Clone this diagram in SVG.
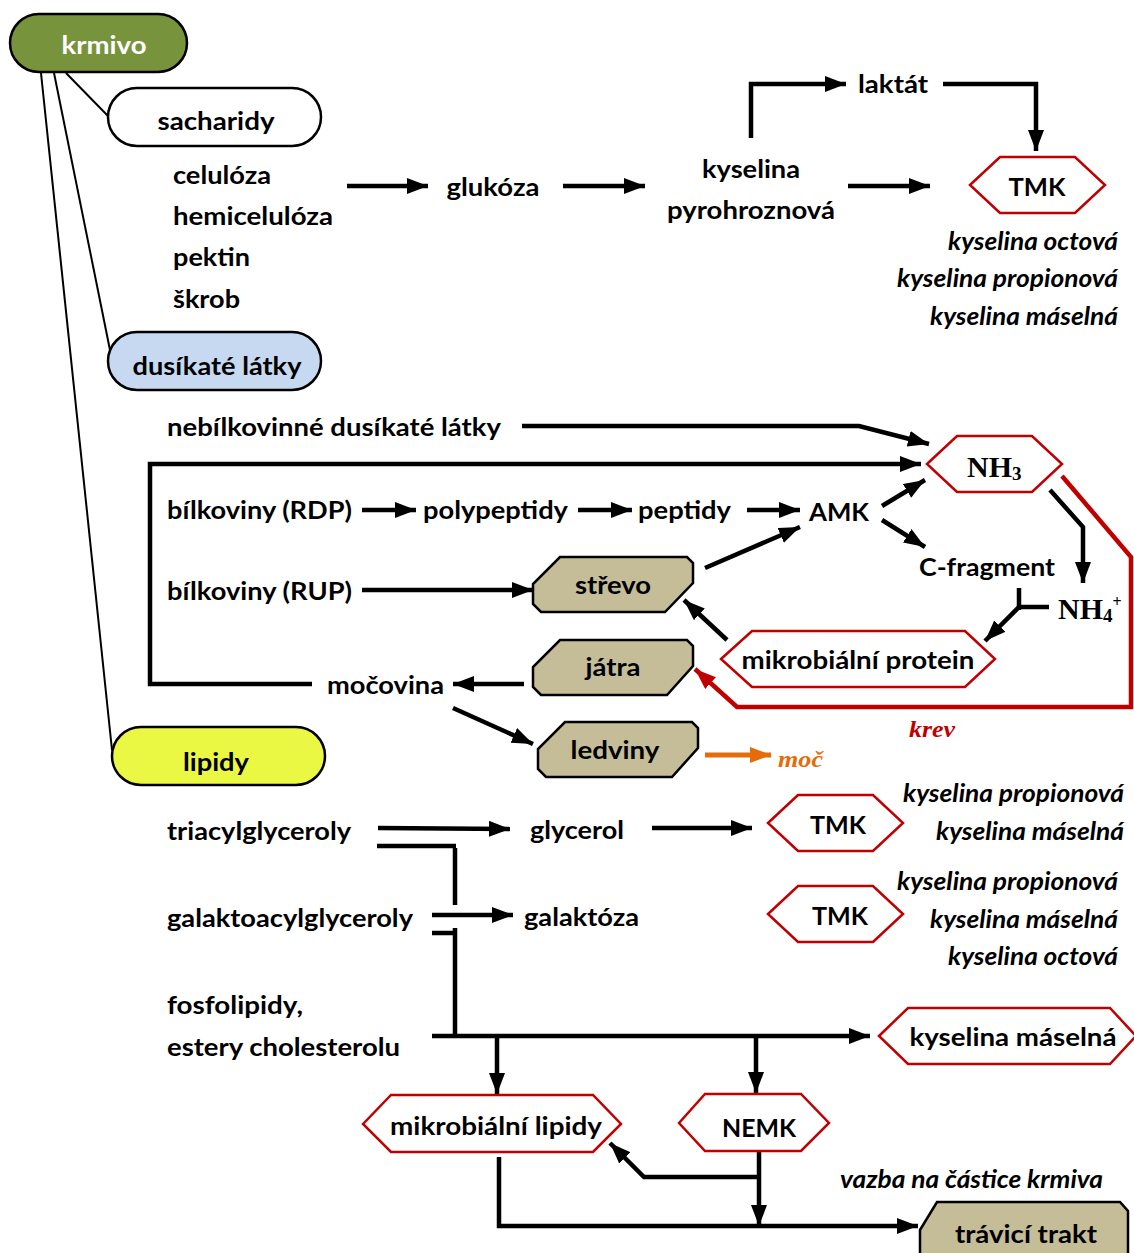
<svg xmlns="http://www.w3.org/2000/svg" width="1134" height="1253" viewBox="0 0 1134 1253">
<style>
text{font-family:Lato,"Open Sans","Liberation Sans",sans-serif;font-weight:bold;font-size:24px;fill:#000}
.it{font-style:italic}
.ser{font-family:"Liberation Serif","Times New Roman",serif;font-weight:bold}
.nh{font-family:"Liberation Serif","Times New Roman",serif;font-weight:bold;font-size:30px}
.c{fill:none;stroke:#000;stroke-width:4.5}
.a{marker-end:url(#ah)}
.thin{fill:none;stroke:#000;stroke-width:2}
.pill{stroke:#000;stroke-width:2.5}
.hex{fill:#fff;stroke:#c00000;stroke-width:2.5}
.tan{fill:#c4bd97;stroke:#000;stroke-width:2.5}
</style>
<defs>
<marker id="ah" markerUnits="userSpaceOnUse" markerWidth="24" markerHeight="18" refX="21" refY="8" orient="auto"><path d="M0,0 L21,8 L0,16 z" fill="#000"/></marker>
<marker id="ahr" markerUnits="userSpaceOnUse" markerWidth="24" markerHeight="18" refX="21" refY="8" orient="auto"><path d="M0,0 L21,8 L0,16 z" fill="#c00000"/></marker>
<marker id="aho" markerUnits="userSpaceOnUse" markerWidth="24" markerHeight="18" refX="21" refY="8" orient="auto"><path d="M0,0 L21,8 L0,16 z" fill="#e46c0a"/></marker>
</defs>
<g id="connectors">
<line class="thin" x1="66" y1="73" x2="108" y2="116"/>
<line class="thin" x1="54" y1="73" x2="110" y2="350"/>
<line class="thin" x1="41" y1="73" x2="112" y2="750"/>
<line class="c a" x1="347" y1="186" x2="428" y2="186"/>
<line class="c a" x1="563" y1="186" x2="645" y2="186"/>
<line class="c a" x1="848" y1="186" x2="930" y2="186"/>
<path class="c a" d="M751,138 V84 H846"/>
<path class="c a" d="M943,84 H1036 V151"/>
<path class="c a" d="M522,426 H859 L929,444"/>
<path class="c a" d="M312,684 H150 V464 H921"/>
<line class="c a" x1="362" y1="510" x2="416" y2="510"/>
<line class="c a" x1="578" y1="510" x2="632" y2="510"/>
<line class="c a" x1="747" y1="510" x2="800" y2="510"/>
<line class="c a" x1="882" y1="506" x2="925" y2="480"/>
<line class="c a" x1="882" y1="520" x2="925" y2="547"/>
<line class="c a" x1="362" y1="590" x2="533" y2="590"/>
<line class="c a" x1="705" y1="568" x2="800" y2="527"/>
<path class="c a" d="M1050,490 L1083,527 V583"/>
<path class="c" d="M1019,588 V610"/>
<path class="c a" d="M1049,607 H1019 L985,641"/>
<line class="c a" x1="727" y1="640" x2="684" y2="600"/>
<path fill="none" stroke="#c00000" stroke-width="4.5" marker-end="url(#ahr)" d="M1062,476 L1131,557 V707 H737 L695,669"/>
<line class="c a" x1="524" y1="684" x2="453" y2="684"/>
<line class="c a" x1="453" y1="708" x2="533" y2="744"/>
<line fill="none" stroke="#e46c0a" stroke-width="5" marker-end="url(#aho)" x1="705" y1="755" x2="771" y2="755"/>
<line class="c a" x1="378" y1="828" x2="510" y2="829"/>
<line class="c a" x1="652" y1="828" x2="752" y2="828"/>
<path class="c" d="M377,846 H456 M455,848 V905"/>
<line class="c a" x1="432" y1="915" x2="513" y2="915"/>
<path class="c" d="M432,933 H456 M455,928 V1036"/>
<line class="c a" x1="432" y1="1036" x2="870" y2="1036"/>
<line class="c a" x1="497" y1="1036" x2="497" y2="1094"/>
<line class="c a" x1="756" y1="1036" x2="756" y2="1093"/>
<path class="c a" d="M759,1152 V1226"/>
<path class="c a" d="M759,1177 H644 L610,1143"/>
<path class="c a" d="M499,1157 V1226 H918"/>
</g>
<g id="krmivo"><rect class="pill" x="10" y="14" width="177" height="58" rx="29" fill="#77933c"/><text x="104" y="54" text-anchor="middle" style="fill:#fff" textLength="85" lengthAdjust="spacingAndGlyphs">krmivo</text></g>
<g id="sacharidy"><rect class="pill" x="108" y="88" width="213" height="58" rx="29" fill="#fff"/><text x="216" y="130" text-anchor="middle" textLength="117" lengthAdjust="spacingAndGlyphs">sacharidy</text></g>
<g id="sacharidy-list">
<text x="173" y="184" textLength="98" lengthAdjust="spacingAndGlyphs">celulóza</text>
<text x="173" y="225" textLength="160" lengthAdjust="spacingAndGlyphs">hemicelulóza</text>
<text x="173" y="266" textLength="77" lengthAdjust="spacingAndGlyphs">pektin</text>
<text x="173" y="308" textLength="67" lengthAdjust="spacingAndGlyphs">škrob</text>
</g>
<g id="glukoza"><text x="493" y="196" text-anchor="middle" textLength="93" lengthAdjust="spacingAndGlyphs">glukóza</text></g>
<g id="kyselina-pyrohroznova"><text x="751" y="178" text-anchor="middle" textLength="98" lengthAdjust="spacingAndGlyphs">kyselina</text><text x="751" y="219" text-anchor="middle" textLength="168" lengthAdjust="spacingAndGlyphs">pyrohroznová</text></g>
<g id="laktat"><text x="893" y="93" text-anchor="middle" textLength="70" lengthAdjust="spacingAndGlyphs">laktát</text></g>
<g id="tmk1"><polygon class="hex" points="970,185 1000,157 1075,157 1105,185 1075,213 1000,213"/><text x="1037" y="196" text-anchor="middle" textLength="57" lengthAdjust="spacingAndGlyphs">TMK</text></g>
<g id="tmk1-list">
<text class="it" x="1118" y="250" text-anchor="end" textLength="170" lengthAdjust="spacingAndGlyphs">kyselina octová</text>
<text class="it" x="1118" y="287" text-anchor="end" textLength="221" lengthAdjust="spacingAndGlyphs">kyselina propionová</text>
<text class="it" x="1118" y="325" text-anchor="end" textLength="188" lengthAdjust="spacingAndGlyphs">kyselina máselná</text>
</g>
<g id="dusikate"><rect class="pill" x="108" y="332" width="213" height="58" rx="29" fill="#c6d9f1"/><text x="217" y="375" text-anchor="middle" textLength="169" lengthAdjust="spacingAndGlyphs">dusíkaté látky</text></g>
<g id="nebilkovinne"><text x="167" y="436" textLength="334" lengthAdjust="spacingAndGlyphs">nebílkovinné dusíkaté látky</text></g>
<g id="nh3"><polygon class="hex" points="927,464 957,436 1032,436 1062,464 1032,492 957,492"/><text class="nh" x="967" y="477">NH<tspan style="font-size:19px" dy="3">3</tspan></text></g>
<g id="rdp"><text x="167" y="519" textLength="185" lengthAdjust="spacingAndGlyphs">bílkoviny (RDP)</text></g>
<g id="polypeptidy"><text x="423" y="519" textLength="145" lengthAdjust="spacingAndGlyphs">polypeptidy</text></g>
<g id="peptidy"><text x="638" y="519" textLength="93" lengthAdjust="spacingAndGlyphs">peptidy</text></g>
<g id="amk"><text x="809" y="521" textLength="60" lengthAdjust="spacingAndGlyphs">AMK</text></g>
<g id="cfragment"><text x="919" y="576" textLength="136" lengthAdjust="spacingAndGlyphs">C-fragment</text></g>
<g id="nh4"><text class="nh" x="1058" y="619">NH<tspan style="font-size:19px" dy="3">4</tspan><tspan style="font-size:16px" dy="-15">+</tspan></text></g>
<g id="rup"><text x="167" y="600" textLength="185" lengthAdjust="spacingAndGlyphs">bílkoviny (RUP)</text></g>
<g id="strevo"><polygon class="tan" points="560,557 687,557 693,563 693,583 665,612 541,612 533,604 533,584"/><text x="613" y="594" text-anchor="middle" textLength="76" lengthAdjust="spacingAndGlyphs">střevo</text></g>
<g id="mikrobialni-protein"><polygon class="hex" points="721,659 752,631 965,631 995,659 965,687 752,687"/><text x="858" y="669" text-anchor="middle" textLength="233" lengthAdjust="spacingAndGlyphs">mikrobiální protein</text></g>
<g id="jatra"><polygon class="tan" points="560,640 687,640 693,646 693,666 667,695 541,695 533,687 533,667"/><text x="613" y="676" text-anchor="middle" textLength="55" lengthAdjust="spacingAndGlyphs">játra</text></g>
<g id="mocovina"><text x="327" y="694" textLength="117" lengthAdjust="spacingAndGlyphs">močovina</text></g>
<g id="ledviny"><polygon class="tan" points="565,722 692,722 698,728 698,748 672,777 546,777 538,769 538,749"/><text x="615" y="759" text-anchor="middle" textLength="89" lengthAdjust="spacingAndGlyphs">ledviny</text></g>
<g id="moc"><text class="ser it" x="778" y="767" style="fill:#e46c0a" textLength="45" lengthAdjust="spacingAndGlyphs">moč</text></g>
<g id="krev"><text class="ser it" x="909" y="737" style="fill:#c00000" textLength="46" lengthAdjust="spacingAndGlyphs">krev</text></g>
<g id="lipidy"><rect class="pill" x="112" y="727" width="213" height="58" rx="29" fill="#eaf743"/><text x="216" y="771" text-anchor="middle" textLength="66" lengthAdjust="spacingAndGlyphs">lipidy</text></g>
<g id="triacylglyceroly"><text x="167" y="840" textLength="184" lengthAdjust="spacingAndGlyphs">triacylglyceroly</text></g>
<g id="glycerol"><text x="530" y="839" textLength="94" lengthAdjust="spacingAndGlyphs">glycerol</text></g>
<g id="tmk2"><polygon class="hex" points="768,823 798,795 873,795 903,823 873,851 798,851"/><text x="838" y="834" text-anchor="middle" textLength="56" lengthAdjust="spacingAndGlyphs">TMK</text></g>
<g id="tmk2-list">
<text class="it" x="1124" y="802" text-anchor="end" textLength="221" lengthAdjust="spacingAndGlyphs">kyselina propionová</text>
<text class="it" x="1124" y="840" text-anchor="end" textLength="188" lengthAdjust="spacingAndGlyphs">kyselina máselná</text>
</g>
<g id="galaktoacylglyceroly"><text x="167" y="927" textLength="246" lengthAdjust="spacingAndGlyphs">galaktoacylglyceroly</text></g>
<g id="galaktoza"><text x="524" y="926" textLength="115" lengthAdjust="spacingAndGlyphs">galaktóza</text></g>
<g id="tmk3"><polygon class="hex" points="768,914 798,886 873,886 903,914 873,942 798,942"/><text x="840" y="925" text-anchor="middle" textLength="56" lengthAdjust="spacingAndGlyphs">TMK</text></g>
<g id="tmk3-list">
<text class="it" x="1118" y="890" text-anchor="end" textLength="221" lengthAdjust="spacingAndGlyphs">kyselina propionová</text>
<text class="it" x="1118" y="928" text-anchor="end" textLength="188" lengthAdjust="spacingAndGlyphs">kyselina máselná</text>
<text class="it" x="1118" y="965" text-anchor="end" textLength="170" lengthAdjust="spacingAndGlyphs">kyselina octová</text>
</g>
<g id="fosfolipidy"><text x="167" y="1014" textLength="136" lengthAdjust="spacingAndGlyphs">fosfolipidy,</text><text x="167" y="1056" textLength="233" lengthAdjust="spacingAndGlyphs">estery cholesterolu</text></g>
<g id="kyselina-maselna"><polygon class="hex" points="879,1036 908,1008 1110,1008 1136,1036 1110,1064 908,1064"/><text x="1013" y="1046" text-anchor="middle" textLength="207" lengthAdjust="spacingAndGlyphs">kyselina máselná</text></g>
<g id="mikrobialni-lipidy"><polygon class="hex" points="363,1124 391,1095 593,1095 621,1124 593,1152 391,1152"/><text x="496" y="1135" text-anchor="middle" textLength="212" lengthAdjust="spacingAndGlyphs">mikrobiální lipidy</text></g>
<g id="nemk"><polygon class="hex" points="679,1123 705,1094 801,1094 829,1123 801,1151 705,1151"/><text x="759" y="1137" text-anchor="middle" textLength="74" lengthAdjust="spacingAndGlyphs">NEMK</text></g>
<g id="vazba"><text class="it" x="840" y="1188" textLength="263" lengthAdjust="spacingAndGlyphs">vazba na částice krmiva</text></g>
<g id="travici-trakt"><polygon class="tan" points="920,1230 937,1202 1120,1202 1128,1211 1128,1262 920,1262"/><text x="1026" y="1243" text-anchor="middle" textLength="142" lengthAdjust="spacingAndGlyphs">trávicí trakt</text></g>
</svg>
